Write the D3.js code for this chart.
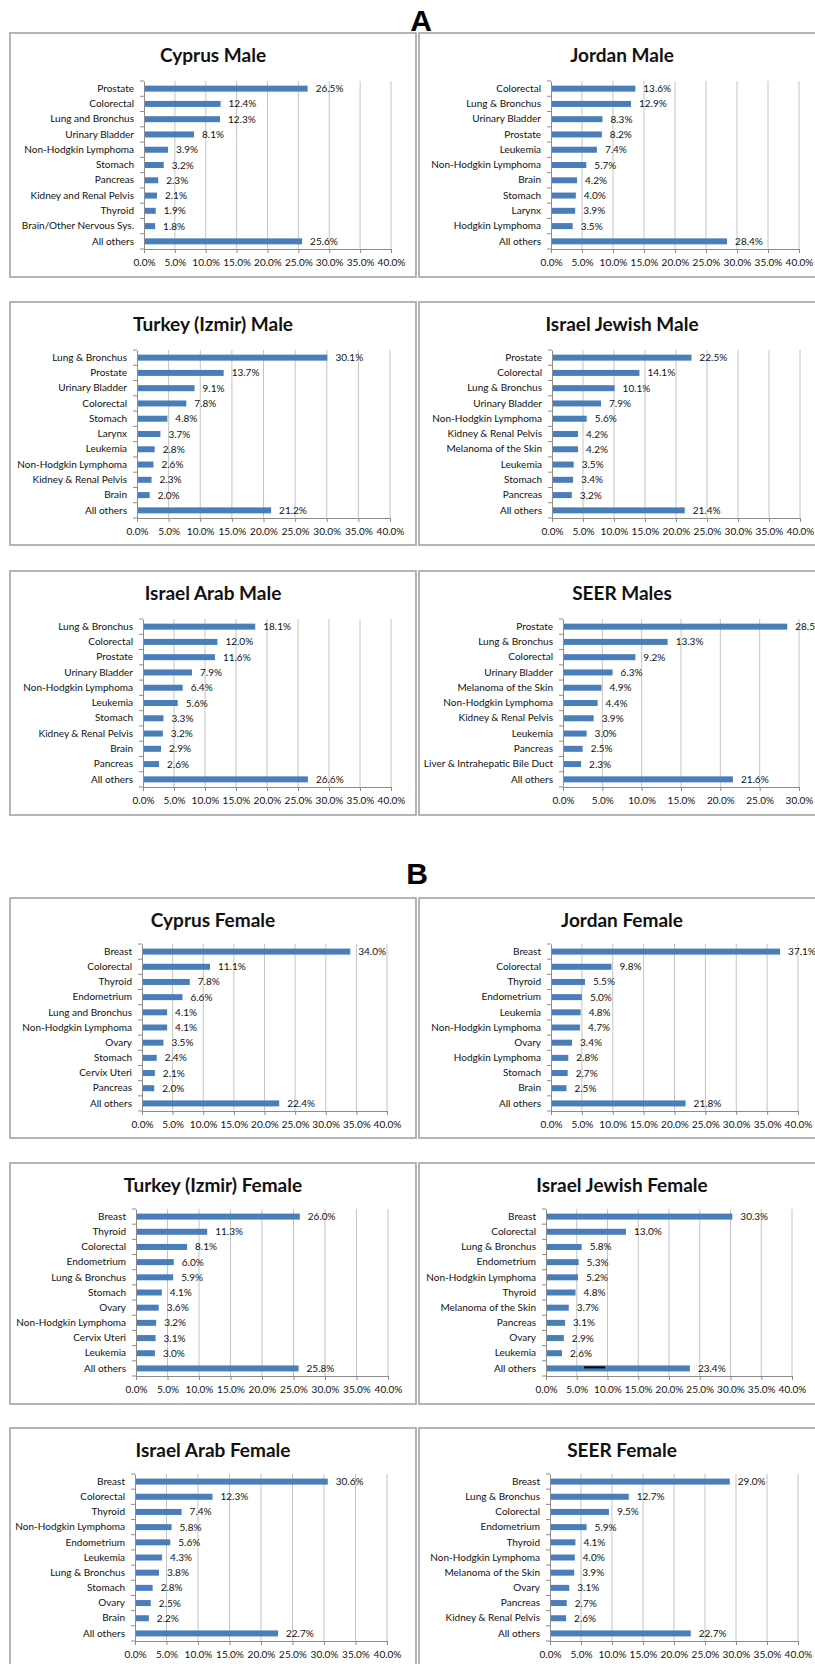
<!DOCTYPE html>
<html>
<head>
<meta charset="utf-8">
<script src="https://cdn.jsdelivr.net/npm/d3@7"></script>
<style>
  body { margin: 0; background: #fff; overflow: hidden; }
  svg { display: block; }
  text { font-family: Lato, "Open Sans", sans-serif; }
</style>
</head>
<body>
<div id="chart"></div>
<script>
// ---- data (percent of all cancers) ----
const cyprusMaleCats = ['Prostate', 'Colorectal', 'Lung and Bronchus', 'Urinary Bladder', 'Non-Hodgkin Lymphoma', 'Stomach', 'Pancreas', 'Kidney and Renal Pelvis', 'Thyroid', 'Brain/Other Nervous Sys.', 'All others'];
const cyprusMaleVals = [26.5, 12.4, 12.3, 8.1, 3.9, 3.2, 2.3, 2.1, 1.9, 1.8, 25.6];

const jordanMaleCats = ['Colorectal', 'Lung & Bronchus', 'Urinary Bladder', 'Prostate', 'Leukemia', 'Non-Hodgkin Lymphoma', 'Brain', 'Stomach', 'Larynx', 'Hodgkin Lymphoma', 'All others'];
const jordanMaleVals = [13.6, 12.9, 8.3, 8.2, 7.4, 5.7, 4.2, 4.0, 3.9, 3.5, 28.4];

const turkeyMaleCats = ['Lung & Bronchus', 'Prostate', 'Urinary Bladder', 'Colorectal', 'Stomach', 'Larynx', 'Leukemia', 'Non-Hodgkin Lymphoma', 'Kidney & Renal Pelvis', 'Brain', 'All others'];
const turkeyMaleVals = [30.1, 13.7, 9.1, 7.8, 4.8, 3.7, 2.8, 2.6, 2.3, 2.0, 21.2];

const jewishMaleCats = ['Prostate', 'Colorectal', 'Lung & Bronchus', 'Urinary Bladder', 'Non-Hodgkin Lymphoma', 'Kidney & Renal Pelvis', 'Melanoma of the Skin', 'Leukemia', 'Stomach', 'Pancreas', 'All others'];
const jewishMaleVals = [22.5, 14.1, 10.1, 7.9, 5.6, 4.2, 4.2, 3.5, 3.4, 3.2, 21.4];

const arabMaleCats = ['Lung & Bronchus', 'Colorectal', 'Prostate', 'Urinary Bladder', 'Non-Hodgkin Lymphoma', 'Leukemia', 'Stomach', 'Kidney & Renal Pelvis', 'Brain', 'Pancreas', 'All others'];
const arabMaleVals = [18.1, 12.0, 11.6, 7.9, 6.4, 5.6, 3.3, 3.2, 2.9, 2.6, 26.6];

const seerMaleCats = ['Prostate', 'Lung & Bronchus', 'Colorectal', 'Urinary Bladder', 'Melanoma of the Skin', 'Non-Hodgkin Lymphoma', 'Kidney & Renal Pelvis', 'Leukemia', 'Pancreas', 'Liver & Intrahepatic Bile Duct', 'All others'];
const seerMaleVals = [28.5, 13.3, 9.2, 6.3, 4.9, 4.4, 3.9, 3.0, 2.5, 2.3, 21.6];

const cyprusFemaleCats = ['Breast', 'Colorectal', 'Thyroid', 'Endometrium', 'Lung and Bronchus', 'Non-Hodgkin Lymphoma', 'Ovary', 'Stomach', 'Cervix Uteri', 'Pancreas', 'All others'];
const cyprusFemaleVals = [34.0, 11.1, 7.8, 6.6, 4.1, 4.1, 3.5, 2.4, 2.1, 2.0, 22.4];

const jordanFemaleCats = ['Breast', 'Colorectal', 'Thyroid', 'Endometrium', 'Leukemia', 'Non-Hodgkin Lymphoma', 'Ovary', 'Hodgkin Lymphoma', 'Stomach', 'Brain', 'All others'];
const jordanFemaleVals = [37.1, 9.8, 5.5, 5.0, 4.8, 4.7, 3.4, 2.8, 2.7, 2.5, 21.8];

const turkeyFemaleCats = ['Breast', 'Thyroid', 'Colorectal', 'Endometrium', 'Lung & Bronchus', 'Stomach', 'Ovary', 'Non-Hodgkin Lymphoma', 'Cervix Uteri', 'Leukemia', 'All others'];
const turkeyFemaleVals = [26.0, 11.3, 8.1, 6.0, 5.9, 4.1, 3.6, 3.2, 3.1, 3.0, 25.8];

const jewishFemaleCats = ['Breast', 'Colorectal', 'Lung & Bronchus', 'Endometrium', 'Non-Hodgkin Lymphoma', 'Thyroid', 'Melanoma of the Skin', 'Pancreas', 'Ovary', 'Leukemia', 'All others'];
const jewishFemaleVals = [30.3, 13.0, 5.8, 5.3, 5.2, 4.8, 3.7, 3.1, 2.9, 2.6, 23.4];

const arabFemaleCats = ['Breast', 'Colorectal', 'Thyroid', 'Non-Hodgkin Lymphoma', 'Endometrium', 'Leukemia', 'Lung & Bronchus', 'Stomach', 'Ovary', 'Brain', 'All others'];
const arabFemaleVals = [30.6, 12.3, 7.4, 5.8, 5.6, 4.3, 3.8, 2.8, 2.5, 2.2, 22.7];

const seerFemaleCats = ['Breast', 'Lung & Bronchus', 'Colorectal', 'Endometrium', 'Thyroid', 'Non-Hodgkin Lymphoma', 'Melanoma of the Skin', 'Ovary', 'Pancreas', 'Kidney & Renal Pelvis', 'All others'];
const seerFemaleVals = [29.0, 12.7, 9.5, 5.9, 4.1, 4.0, 3.9, 3.1, 2.7, 2.6, 22.7];

// stray pen mark in the scanned figure (Israel Jewish Female, "All others" bar)
const strayMark = { panel: 'Israel Jewish Female', cat: 'All others', from: 6.2, to: 9.6 };

// ---- layout ----
const width = 815, height = 1664;
const colX = [10, 419];
const panelW = [406, 410];
const rowY = [33, 302, 571, 898, 1163, 1428];
const rowH = [244, 243, 244, 240, 241, 241];

const panels = [
  { title: 'Cyprus Male', cats: cyprusMaleCats, vals: cyprusMaleVals, max: 40, col: 0, row: 0, x0: 144, x1: 391 },
  { title: 'Jordan Male', cats: jordanMaleCats, vals: jordanMaleVals, max: 40, col: 1, row: 0, x0: 551, x1: 799 },
  { title: 'Turkey (Izmir) Male', cats: turkeyMaleCats, vals: turkeyMaleVals, max: 40, col: 0, row: 1, x0: 137, x1: 390 },
  { title: 'Israel Jewish Male', cats: jewishMaleCats, vals: jewishMaleVals, max: 40, col: 1, row: 1, x0: 552, x1: 800 },
  { title: 'Israel Arab Male', cats: arabMaleCats, vals: arabMaleVals, max: 40, col: 0, row: 2, x0: 143, x1: 391 },
  { title: 'SEER Males', cats: seerMaleCats, vals: seerMaleVals, max: 30, col: 1, row: 2, x0: 563, x1: 799 },
  { title: 'Cyprus Female', cats: cyprusFemaleCats, vals: cyprusFemaleVals, max: 40, col: 0, row: 3, x0: 142, x1: 387 },
  { title: 'Jordan Female', cats: jordanFemaleCats, vals: jordanFemaleVals, max: 40, col: 1, row: 3, x0: 551, x1: 798 },
  { title: 'Turkey (Izmir) Female', cats: turkeyFemaleCats, vals: turkeyFemaleVals, max: 40, col: 0, row: 4, x0: 136, x1: 388 },
  { title: 'Israel Jewish Female', cats: jewishFemaleCats, vals: jewishFemaleVals, max: 40, col: 1, row: 4, x0: 546, x1: 792 },
  { title: 'Israel Arab Female', cats: arabFemaleCats, vals: arabFemaleVals, max: 40, col: 0, row: 5, x0: 135, x1: 387 },
  { title: 'SEER Female', cats: seerFemaleCats, vals: seerFemaleVals, max: 40, col: 1, row: 5, x0: 550, x1: 798 }
];

const barColor = '#4a7ebb';
const axisColor = '#8c8c8c';
const gridColor = '#c4c4c4';
const fontSmall = 10;

const svg = d3.select('#chart').append('svg')
  .attr('width', width)
  .attr('height', height);

// section letters
svg.append('text').attr('x', 421).attr('y', 20).attr('dy', '0.35em')
  .attr('text-anchor', 'middle').attr('font-size', 30).attr('font-weight', 'bold')
  .style('font-family', 'Liberation Sans, Arial, sans-serif').text('A');
svg.append('text').attr('x', 417).attr('y', 873).attr('dy', '0.35em')
  .attr('text-anchor', 'middle').attr('font-size', 30).attr('font-weight', 'bold')
  .style('font-family', 'Liberation Sans, Arial, sans-serif').text('B');

const drawPanel = (p) => {
  const bx = colX[p.col], by = rowY[p.row], bw = panelW[p.col], bh = rowH[p.row];
  const isB = p.row >= 3;
  const plotTop = by + (isB ? 46 : 48);
  const plotBottom = by + (isB ? 213 : 216);

  const g = svg.append('g');

  g.append('rect')
    .attr('x', bx).attr('y', by)
    .attr('width', bw).attr('height', bh)
    .attr('fill', '#fff')
    .attr('stroke', '#a3a3a3')
    .attr('stroke-width', 1.6);

  g.append('text')
    .attr('x', bx + 203).attr('y', by + 22).attr('dy', '0.35em')
    .attr('text-anchor', 'middle')
    .attr('font-size', 19).attr('font-weight', 'bold')
    .attr('fill', '#111')
    .text(p.title);

  const x = d3.scaleLinear().domain([0, p.max]).range([p.x0, p.x1]);
  const y = d3.scaleBand().domain(p.cats).range([plotTop, plotBottom]).padding(0);
  const ticks = d3.range(0, p.max + 0.001, 5);

  // gridlines
  g.append('g').selectAll('line')
    .data(ticks.filter(t => t > 0))
    .enter().append('line')
    .attr('x1', d => x(d)).attr('x2', d => x(d))
    .attr('y1', plotTop).attr('y2', plotBottom)
    .attr('stroke', gridColor).attr('stroke-width', 1);

  // bars
  const data = p.cats.map((c, i) => ({ cat: c, value: p.vals[i] }));
  g.append('g').selectAll('rect')
    .data(data)
    .enter().append('rect')
    .attr('x', x(0))
    .attr('y', d => y(d.cat) + y.bandwidth() / 2 - 3)
    .attr('width', d => x(d.value) - x(0))
    .attr('height', 6)
    .attr('fill', barColor);

  // value labels
  g.append('g').selectAll('text')
    .data(data)
    .enter().append('text')
    .attr('x', d => x(d.value) + 8)
    .attr('y', d => y(d.cat) + y.bandwidth() / 2)
    .attr('dy', '0.35em')
    .attr('font-size', fontSmall)
    .attr('fill', '#111')
    .text(d => d.value.toFixed(1) + '%');

  // bottom axis
  const xAxis = g.append('g')
    .attr('transform', `translate(0,${plotBottom})`)
    .call(d3.axisBottom(x).tickValues(ticks).tickSize(4).tickSizeOuter(0)
      .tickFormat(d => d.toFixed(1) + '%'));
  xAxis.select('.domain').attr('stroke', axisColor);
  xAxis.selectAll('.tick line').attr('stroke', axisColor);
  xAxis.selectAll('.tick text')
    .attr('font-size', fontSmall).attr('fill', '#111')
    .style('font-family', 'Lato, "Open Sans", sans-serif')
    .attr('y', 10);

  // left axis: category labels + ticks between bands
  const yAxis = g.append('g')
    .attr('transform', `translate(${x(0)},0)`)
    .call(d3.axisLeft(y).tickSize(0).tickPadding(10));
  yAxis.select('.domain').attr('stroke', axisColor);
  yAxis.selectAll('.tick text')
    .attr('font-size', fontSmall).attr('fill', '#111')
    .style('font-family', 'Lato, "Open Sans", sans-serif');
  g.append('g').selectAll('line')
    .data(p.cats.map(c => y(c)).concat([plotBottom]))
    .enter().append('line')
    .attr('x1', x(0) - 4).attr('x2', x(0))
    .attr('y1', d => d).attr('y2', d => d)
    .attr('stroke', axisColor);

  if (strayMark.panel === p.title) {
    const cy = y(strayMark.cat) + y.bandwidth() / 2 - 1;
    g.append('line')
      .attr('x1', x(strayMark.from)).attr('x2', x(strayMark.to))
      .attr('y1', cy).attr('y2', cy)
      .attr('stroke', '#000').attr('stroke-width', 2);
  }
};

panels.forEach(drawPanel);
</script>
</body>
</html>
